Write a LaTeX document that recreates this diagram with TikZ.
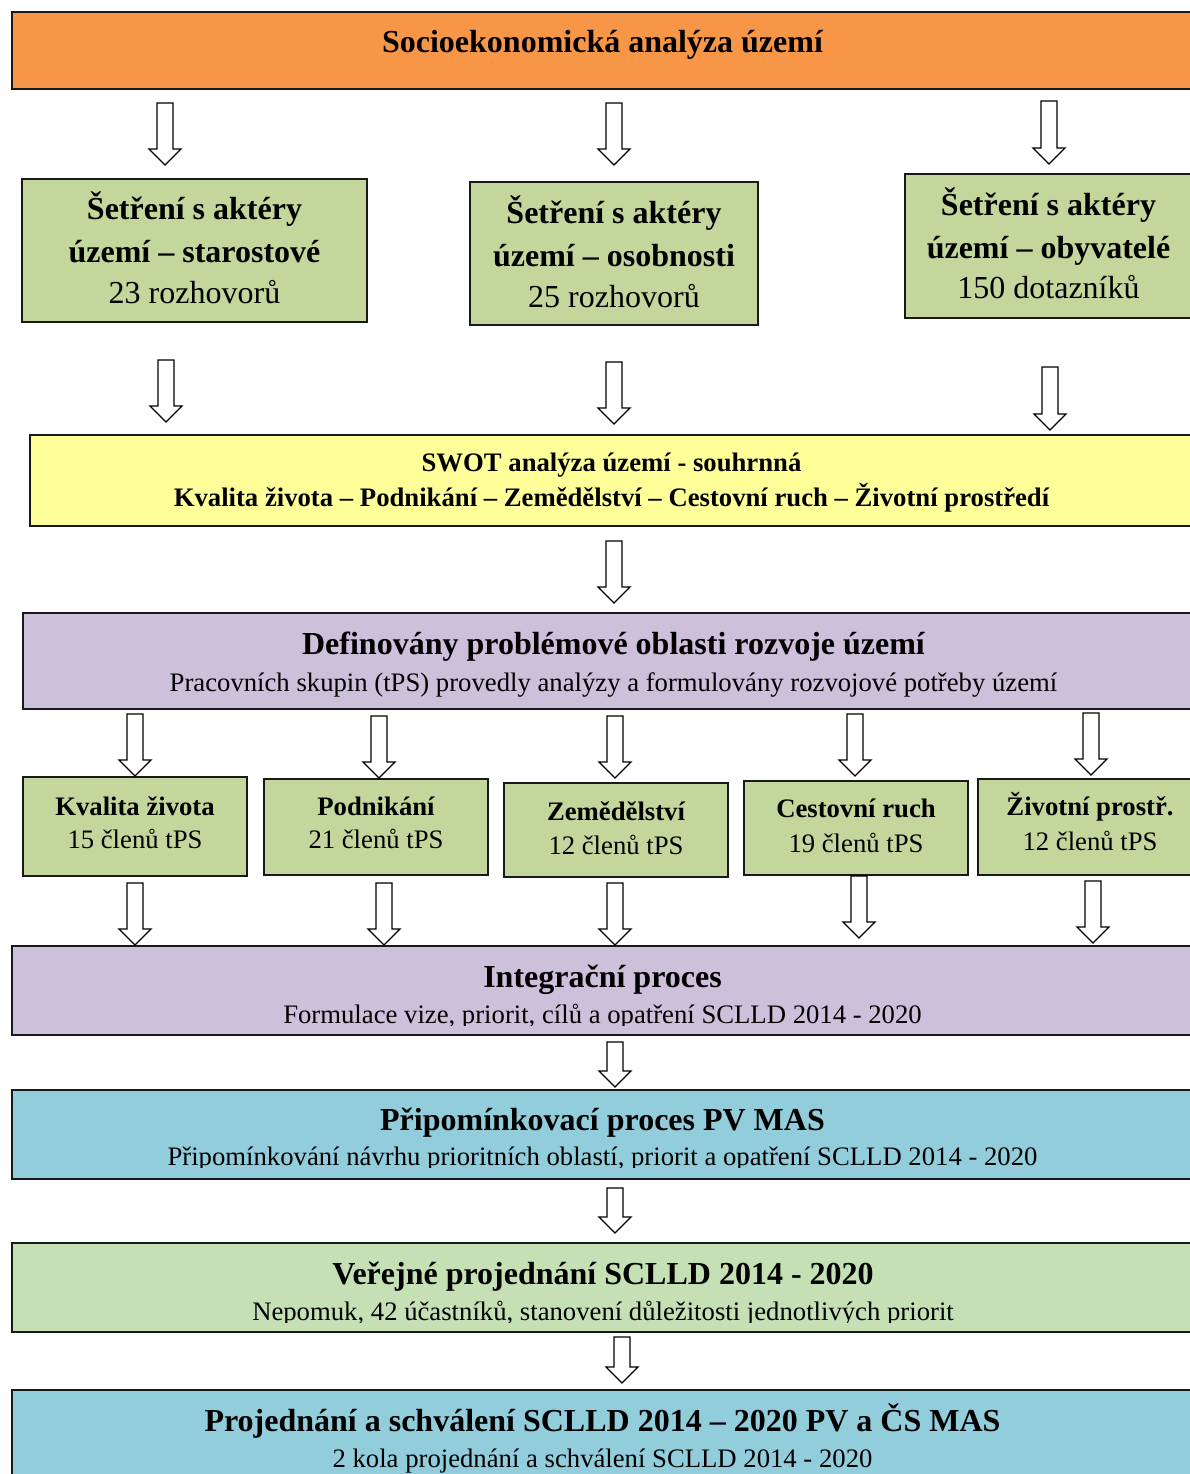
\documentclass[tikz,border=0pt]{standalone}
\usepackage{fontspec}
\setmainfont{Liberation Serif}
\usetikzlibrary{calc}
\definecolor{cOrange}{HTML}{F79646}
\definecolor{cGreen}{HTML}{C3D69B}
\definecolor{cYellow}{HTML}{FFFF99}
\definecolor{cPurple}{HTML}{CCC0DA}
\definecolor{cBlue}{HTML}{92CDDC}
\definecolor{cMint}{HTML}{C5E0B4}
\tikzset{
  box/.style={draw=black!90, line width=1.8pt, rectangle, inner sep=0pt},
  fatarr/.style={draw=black, line width=1.3pt, fill=white, line join=miter},
  bigb/.style={anchor=base, inner sep=0pt, font=\fontsize{32}{42}\selectfont\bfseries},
  bigr/.style={anchor=base, inner sep=0pt, font=\fontsize{32}{42}\selectfont},
  midb/.style={anchor=base, inner sep=0pt, font=\fontsize{26.7}{35}\selectfont\bfseries},
  midr/.style={anchor=base, inner sep=0pt, font=\fontsize{26.7}{35}\selectfont},
}
\newcommand\fatarrow[2]{%
  \draw[fatarr] let \p1=(#1), \p2=(#2) in
    (\x1-8pt,\y1) -- (\x1+8pt,\y1) -- (\x1+8pt,\y2+16pt) -- (\x1+16pt,\y2+16pt)
    -- (\x1,\y2) -- (\x1-16pt,\y2+16pt) -- (\x1-8pt,\y2+16pt) -- cycle;}
\begin{document}
\begin{tikzpicture}[x=1pt,y=-1pt]
\useasboundingbox (0,0) rectangle (1190,1474);
\clip (0,0) rectangle (1190,1474);
\fill[white] (0,0) rectangle (1190,1474);

% top box
\node[box, fill=cOrange, minimum width=1181pt, minimum height=77pt] (soc) at (602.5,50.5) {};
\node[bigb] (tsoc) at (602.5,53) {Socioekonomická analýza území};

% survey boxes
\node[box, fill=cGreen, minimum width=345pt, minimum height=143pt] (g1) at (194.5,250.5) {};
\node[bigb] (g1a) at (194.5,219) {Šetření s aktéry};
\node[bigb] (g1b) at (194.5,262) {území – starostové};
\node[bigr] (g1c) at (194.5,303) {23 rozhovorů};

\node[box, fill=cGreen, minimum width=288pt, minimum height=143pt] (g2) at (614,253.5) {};
\node[bigb] (g2a) at (614,223) {Šetření s aktéry};
\node[bigb] (g2b) at (614,266) {území – osobnosti};
\node[bigr] (g2c) at (614,307) {25 rozhovorů};

\node[box, fill=cGreen, minimum width=287pt, minimum height=144pt] (g3) at (1048.5,246) {};
\node[bigb] (g3a) at (1048.5,215) {Šetření s aktéry};
\node[bigb] (g3b) at (1048.5,258) {území – obyvatelé};
\node[bigr] (g3c) at (1048.5,298) {150 dotazníků};

% SWOT
\node[box, fill=cYellow, minimum width=1163pt, minimum height=91pt] (swot) at (611.5,480.5) {};
\node[midb] (swota) at (611.5,471) {SWOT analýza území - souhrnná};
\node[midb] (swotb) at (611.5,506) {Kvalita života – Podnikání – Zemědělství – Cestovní ruch – Životní prostředí};

% definition
\node[box, fill=cPurple, minimum width=1181pt, minimum height=96pt] (def) at (613.5,661) {};
\node[bigb] (defa) at (613.5,654) {Definovány problémové oblasti rozvoje území};
\node[midr] (defb) at (613.5,691) {Pracovních skupin (tPS) provedly analýzy a formulovány rozvojové potřeby území};

% working groups
\node[box, fill=cGreen, minimum width=224pt, minimum height=99pt] (k1) at (135,826.5) {};
\node[midb] (k1a) at (135,815) {Kvalita života};
\node[midr] (k1b) at (135,848) {15 členů tPS};

\node[box, fill=cGreen, minimum width=224pt, minimum height=96pt] (k2) at (376,827) {};
\node[midb] (k2a) at (376,815) {Podnikání};
\node[midr] (k2b) at (376,848) {21 členů tPS};

\node[box, fill=cGreen, minimum width=224pt, minimum height=94pt] (k3) at (616,830) {};
\node[midb] (k3a) at (616,820) {Zemědělství};
\node[midr] (k3b) at (616,854) {12 členů tPS};

\node[box, fill=cGreen, minimum width=224pt, minimum height=94pt] (k4) at (856,828) {};
\node[midb] (k4a) at (856,817) {Cestovní ruch};
\node[midr] (k4b) at (856,852) {19 členů tPS};

\node[box, fill=cGreen, minimum width=224pt, minimum height=96pt] (k5) at (1090,827) {};
\node[midb] (k5a) at (1090,815) {Životní prostř.};
\node[midr] (k5b) at (1090,850) {12 členů tPS};

% integration
\node[box, fill=cPurple, minimum width=1181pt, minimum height=89pt] (int) at (602.5,990.5) {};
\node[bigb] (inta) at (602.5,987) {Integrační proces};
\begin{scope}
\clip (0,946) rectangle (1190,1025.5);
\node[midr] (intb) at (602.5,1023) {Formulace vize, priorit, cílů a opatření SCLLD 2014 - 2020};
\end{scope}

% comments
\node[box, fill=cBlue, minimum width=1181pt, minimum height=89pt] (pri) at (602.5,1134.5) {};
\node[bigb] (pria) at (602.5,1130) {Připomínkovací proces PV MAS};
\begin{scope}
\clip (0,1090) rectangle (1190,1167.5);
\node[midr] (prib) at (602.5,1165) {Připomínkování návrhu prioritních oblastí, priorit a opatření SCLLD 2014 - 2020};
\end{scope}

% public hearing
\node[box, fill=cMint, minimum width=1182pt, minimum height=89pt] (ver) at (603,1287.5) {};
\node[bigb] (vera) at (603,1284) {Veřejné projednání SCLLD 2014 - 2020};
\begin{scope}
\clip (0,1243) rectangle (1190,1322.5);
\node[midr] (verb) at (603,1320) {Nepomuk, 42 účastníků, stanovení důležitosti jednotlivých priorit};
\end{scope}

% approval
\node[box, fill=cBlue, minimum width=1181pt, minimum height=100pt] (proj) at (602.5,1440) {};
\node[bigb] (proja) at (602.5,1431) {Projednání a schválení SCLLD 2014 – 2020 PV a ČS MAS};
\node[midr] (projb) at (602.5,1467) {2 kola projednání a schválení SCLLD 2014 - 2020};

% arrows
\foreach \i/\x/\a/\b in {1/165/103/165, 2/614/103/165, 3/1049/101/164,
  4/166/360/422, 5/614/362/424, 6/1050/367/430,
  7/614/541/603,
  8/135/714/776, 9/379/716/778, 10/615/716/778, 11/855/714/776, 12/1091/713/775,
  13/135/883/945, 14/384/883/945, 15/615/883/945, 16/859/876/938, 17/1093/881/943,
  18/615/1042/1087, 19/615/1188/1233, 20/622/1337/1383}{
  \coordinate (as\i) at (\x,\a);
  \coordinate (ae\i) at (\x,\b);
  \fatarrow{as\i}{ae\i}
}
\end{tikzpicture}
\end{document}
